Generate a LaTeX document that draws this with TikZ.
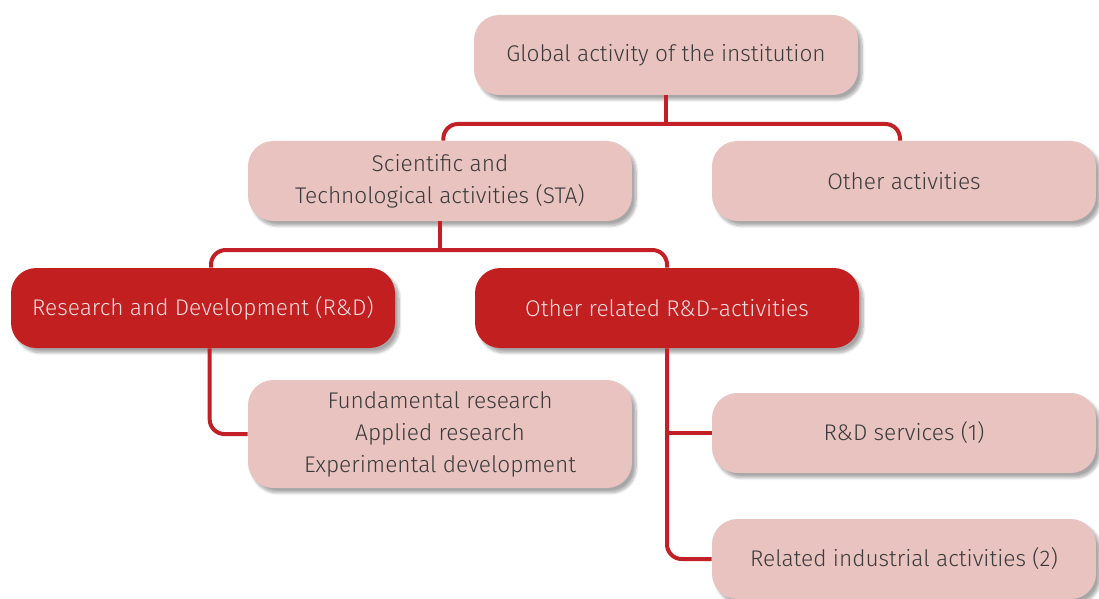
\documentclass[tikz,border=0pt]{standalone}
\usepackage{fontspec}
\setmainfont{Fira Sans Light}
\usepackage{tikz}
\usetikzlibrary{positioning}
\usetikzlibrary{shadows.blur}

\definecolor{boxpink}{HTML}{E8C3C0}
\definecolor{boxred}{HTML}{C11F20}
\definecolor{linkred}{HTML}{C21F26}
\definecolor{textgrey}{HTML}{3C3A3B}
\definecolor{textpale}{HTML}{F6DCDC}

\begin{document}
\begin{tikzpicture}[
        x = 0.75pt, y = -0.75pt,
        box/.style = {
            rectangle,
            rounded corners = 19pt,
            fill = boxpink,
            text = textgrey,
            minimum width = 288pt,
            minimum height = #1,
            align = center,
            font = \fontsize{17}{24}\selectfont,
            blur shadow = {shadow xshift=3pt, shadow yshift=-3.5pt, shadow blur steps=8, shadow opacity=35}
        },
        box/.default = 60pt,
        keybox/.style = {
            box,
            fill = boxred,
            text = textpale
        },
        link/.style = {
            draw = linkred,
            line width = 3pt,
            rounded corners = 11pt
        }
        ]
        \useasboundingbox (0,0) rectangle (1099,599);
%
        \node[box] (global) at (666,55) {Global activity of the institution};
%
        \node[box] (sta) at (440,181) {Scientific and\\Technological activities (STA)};
        \node[box] (other) at (904,181) {Other activities};
%
        \node[keybox] (rd) at (203,308) {Research and Development (R\&D)};
        \node[keybox] (related) at (667,308) {Other related R\&D-activities};
%
        \node[box=81pt] (fund) at (440,434) {Fundamental research\\Applied research\\Experimental development};
        \node[box] (services) at (904,433) {R\&D services (1)};
        \node[box] (industry) at (904,559) {Related industrial activities (2)};
%
        \coordinate (bar1) at (666,124);
        \coordinate (bar2) at (440,250);
%
        \draw[link] (global.south) -- (bar1);
        \draw[link] ([xshift=2.5pt]sta.north) |- (bar1) -| ([xshift=-3pt]other.north);
%
        \draw[link] (sta.south) -- (bar2);
        \draw[link] ([xshift=6pt]rd.north) |- (bar2) -| (related.north);
%
        \draw[link] ([xshift=5pt]rd.south) |- (fund.west);
        \draw[link] (related.south) |- (industry.west);
        \draw[link] ([xshift=1pt]related.south |- services.west) -- (services.west);
%
    \end{tikzpicture}
\end{document}
